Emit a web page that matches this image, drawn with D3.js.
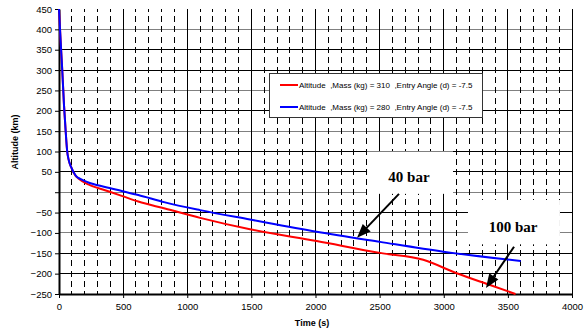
<!DOCTYPE html>
<meta charset="utf-8">
<style>
  body { margin: 0; background: #fff; }
  svg { display: block; background: #fff; font-family: "Liberation Sans", Arial, sans-serif; }
  .grid line { shape-rendering: crispEdges; }
  .axis text { font-size: 9.5px; fill: #000; }
  .axis path, .axis line { stroke: #000; }
  .legend text { font-size: 8px; white-space: pre; }
  .title { font-weight: bold; font-size: 9px; }
  .note { font-family: "Liberation Serif", "Times New Roman", serif; font-weight: bold; font-size: 15px; }
</style>
<body>
</body>
<script src="https://cdn.jsdelivr.net/npm/d3@7"></script>
<script>
  // mass 310 kg
  const timeRed = [0, 8, 16, 26, 39, 52, 64, 75, 94, 130, 151, 229, 359, 489, 618, 826, 1100, 1489, 2009, 2503, 2840, 3101, 3361, 3560];
  const altRed  = [450, 400, 353, 296, 214, 150, 100, 80, 62, 40, 34, 19, 5, -9, -23, -40, -63, -91, -120, -149, -166, -199, -228, -250];
  // mass 280 kg
  const timeBlue = [0, 8, 16, 26, 39, 52, 64, 75, 94, 130, 170, 229, 359, 489, 618, 826, 1100, 1489, 2009, 2503, 2997, 3600];
  const altBlue  = [450, 400, 353, 296, 214, 150, 100, 80, 62, 41, 32, 24, 13, 3, -7, -25, -44, -67, -97, -122, -146, -169];

  const seriesNames = [
    'Altitude  ,Mass (kg) = 310  ,Entry Angle (d) = -7.5',
    'Altitude  ,Mass (kg) = 280  ,Entry Angle (d) = -7.5',
  ];
  const seriesColors = ['#ff0000', '#0000ff'];

  const xTicks = d3.range(0, 4001, 500);
  const xMinor = d3.range(100, 4000, 100).filter(d => d % 500 !== 0);
  const yTicks = d3.range(-250, 451, 50);
  const yGrid = d3.range(-200, 401, 50);
  const grayLevels = [400, 250, 150, 0, -100];

  // annotations in data units: label anchor, arrow tail/tip, white box behind label
  const notes = [
    {label: '40 bar', at: [2729, 25], from: [2651, -4], to: [2324, -112], box: [2402, 3072, 100, -4]},
    {label: '100 bar', at: [3540, -98], from: [3548, -134], to: [3329, -235], box: [3189, 3906, -19, -128]},
  ];

  const W = 587, H = 332;
  const x = d3.scaleLinear().domain([0, 4000]).range([59, 572]);
  const y = d3.scaleLinear().domain([-250, 450]).range([294, 9]);

  const svg = d3.select('body').append('svg')
    .attr('width', W)
    .attr('height', H);

  const grid = svg.append('g').attr('class', 'grid');

  // horizontal grid
  grid.append('g').selectAll('line')
    .data(yGrid)
    .join('line')
    .attr('x1', x(0)).attr('x2', x(4000))
    .attr('y1', d => y(d)).attr('y2', d => y(d))
    .attr('stroke', d => grayLevels.includes(d) ? '#808080' : '#000');

  // minor dashed verticals, a dash centred on every 25 km step
  const band = y(0) - y(25);
  grid.append('g').selectAll('line')
    .data(xMinor)
    .join('line')
    .attr('x1', d => x(d)).attr('x2', d => x(d))
    .attr('y1', y(450)).attr('y2', y(-250))
    .attr('stroke', '#000')
    .attr('stroke-dasharray', `6 ${band - 6}`)
    .attr('stroke-dashoffset', 3);

  // major verticals
  grid.append('g').selectAll('line')
    .data(xTicks.slice(1))
    .join('line')
    .attr('x1', d => x(d)).attr('x2', d => x(d))
    .attr('y1', y(450)).attr('y2', y(-250))
    .attr('stroke', '#000');

  // white boxes behind the note labels
  svg.append('g').selectAll('rect')
    .data(notes)
    .join('rect')
    .attr('x', d => x(d.box[0]))
    .attr('y', d => y(d.box[2]))
    .attr('width', d => x(d.box[1]) - x(d.box[0]))
    .attr('height', d => y(d.box[3]) - y(d.box[2]))
    .attr('fill', '#fff');

  // axes
  svg.append('g')
    .attr('class', 'axis')
    .attr('transform', `translate(0,${y(-250)})`)
    .call(d3.axisBottom(x).tickValues(xTicks).tickSize(4).tickSizeOuter(0).tickPadding(5)
      .tickFormat(d3.format('d')))
    .call(g => g.select('.domain').attr('stroke-width', 2));

  svg.append('g')
    .attr('class', 'axis')
    .attr('transform', `translate(${x(0)},0)`)
    .call(d3.axisLeft(y).tickValues(yTicks).tickSize(4).tickSizeOuter(0).tickPadding(3)
      .tickFormat(d => d === 0 ? '' : d3.format('d')(d)))
    .call(g => g.select('.domain').attr('stroke-width', 2));

  // curves
  const series = [
    timeRed.map((t, i) => [t, altRed[i]]),
    timeBlue.map((t, i) => [t, altBlue[i]]),
  ];
  const line = d3.line()
    .x(d => x(d[0]))
    .y(d => y(d[1]))
    .curve(d3.curveMonotoneX);

  svg.append('g').selectAll('path')
    .data(series)
    .join('path')
    .attr('d', line)
    .attr('fill', 'none')
    .attr('stroke', (d, i) => seriesColors[i])
    .attr('stroke-width', 2);

  // legend
  const lg = svg.append('g').attr('class', 'legend');
  lg.append('rect')
    .attr('x', 269.5).attr('y', 73.5)
    .attr('width', 213).attr('height', 44)
    .attr('fill', '#fff')
    .attr('stroke', '#333');
  seriesNames.forEach((name, i) => {
    const ly = 85 + i * 22;
    lg.append('line')
      .attr('x1', 280).attr('x2', 298)
      .attr('y1', ly).attr('y2', ly)
      .attr('stroke', seriesColors[i])
      .attr('stroke-width', 2);
    lg.append('text')
      .attr('x', 299).attr('y', ly + 3)
      .text(name);
  });

  // notes with arrows
  const head = 14, half = 5.5;
  notes.forEach(n => {
    const x0 = x(n.from[0]), y0 = y(n.from[1]);
    const x1 = x(n.to[0]), y1 = y(n.to[1]);
    const len = Math.hypot(x1 - x0, y1 - y0);
    const ux = (x1 - x0) / len, uy = (y1 - y0) / len;
    const bx = x1 - ux * head, by = y1 - uy * head;
    svg.append('line')
      .attr('x1', x0).attr('y1', y0)
      .attr('x2', bx + ux * 2).attr('y2', by + uy * 2)
      .attr('stroke', '#000')
      .attr('stroke-width', 2);
    svg.append('path')
      .attr('d', `M${x1},${y1}L${bx - uy * half},${by + ux * half}L${bx + uy * half},${by - ux * half}Z`)
      .attr('fill', '#000');
    svg.append('text')
      .attr('class', 'note')
      .attr('x', x(n.at[0])).attr('y', y(n.at[1]))
      .attr('text-anchor', 'middle')
      .text(n.label);
  });

  // axis titles
  svg.append('text')
    .attr('class', 'title')
    .attr('x', 312).attr('y', 326)
    .attr('text-anchor', 'middle')
    .text('Time (s)');

  svg.append('text')
    .attr('class', 'title')
    .attr('transform', 'translate(18,142) rotate(-90)')
    .attr('text-anchor', 'middle')
    .text('Altitude (km)');
</script>
